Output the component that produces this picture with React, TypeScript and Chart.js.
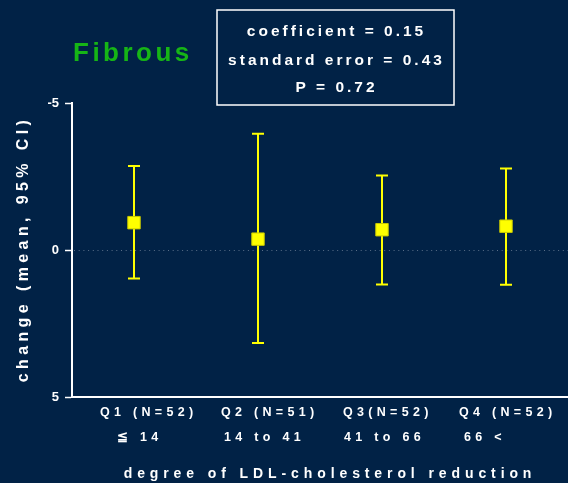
import React, { useEffect, useRef } from "react";
import { Chart, registerables } from "chart.js";

Chart.register(...registerables);

const categories = ["Q1", "Q2", "Q3", "Q4"];
const quartileLabels = ["Q1 (N=52)", "Q2 (N=51)", "Q3(N=52)", "Q4 (N=52)"];
const rangeLabels = ["≦ 14", "14 to 41", "41 to 66", "66 <"];
const means = [-0.93, -0.37, -0.69, -0.81];
const ciLow = [-2.86, -3.95, -2.53, -2.77];
const ciHigh = [0.97, 3.16, 1.17, 1.18];
const yTicks = [-5, 0, 5];
const statLines = ["coefficient = 0.15", "standard error = 0.43", "P = 0.72"];

const BG = "#012246";
const FONT = "'Liberation Sans', Arial, sans-serif";

const bgPlugin = {
  id: "bg",
  beforeDraw(chart: any) {
    const ctx = chart.ctx;
    ctx.save();
    ctx.fillStyle = BG;
    ctx.fillRect(0, 0, chart.width, chart.height);
    ctx.restore();
  },
};

const errorBarPlugin = {
  id: "errorBars",
  beforeDatasetsDraw(chart: any) {
    const ctx = chart.ctx;
    const xs = chart.scales.x;
    const ys = chart.scales.y;
    const area = chart.chartArea;
    ctx.save();
    // dotted zero line
    const y0 = Math.round(ys.getPixelForValue(0)) + 0.5;
    ctx.strokeStyle = "#5a6f88";
    ctx.lineWidth = 1;
    ctx.setLineDash([1, 3.7]);
    ctx.beginPath();
    ctx.moveTo(area.left + 2, y0);
    ctx.lineTo(area.right, y0);
    ctx.stroke();
    ctx.setLineDash([]);

    ctx.strokeStyle = "#ffff00";
    ctx.lineWidth = 2;
    categories.forEach((_, i) => {
      const x = xs.getPixelForValue(i);
      const y1 = ys.getPixelForValue(ciLow[i]);
      const y2 = ys.getPixelForValue(ciHigh[i]);
      ctx.beginPath();
      ctx.moveTo(x, y1);
      ctx.lineTo(x, y2);
      ctx.moveTo(x - 6, y1);
      ctx.lineTo(x + 6, y1);
      ctx.moveTo(x - 6, y2);
      ctx.lineTo(x + 6, y2);
      ctx.stroke();
    });
    ctx.restore();
  },
};

const textPlugin = {
  id: "texts",
  afterDraw(chart: any) {
    const ctx = chart.ctx;
    const xs = chart.scales.x;
    ctx.save();
    // Title
    ctx.fillStyle = "#16b516";
    ctx.font = `bold 26px ${FONT}`;
    (ctx as any).letterSpacing = "3.5px";
    ctx.textAlign = "left";
    ctx.textBaseline = "middle";
    ctx.fillText("Fibrous", 73, 54);

    // Stats box
    ctx.strokeStyle = "#ffffff";
    ctx.lineWidth = 1.5;
    ctx.strokeRect(217, 10, 237, 95);
    ctx.fillStyle = "#ffffff";
    ctx.font = `bold 15.5px ${FONT}`;
    (ctx as any).letterSpacing = "3px";
    ctx.textAlign = "center";
    const ys = [32, 61, 88];
    statLines.forEach((t, i) => ctx.fillText(t, 335 + 1.5, ys[i]));

    // Category labels
    ctx.font = `bold 12.5px ${FONT}`;
    (ctx as any).letterSpacing = "4.3px";
    ctx.textAlign = "left";
    const off1 = [-34, -37, -39, -47];
    const off2 = [-17, -34, -38, -42];
    categories.forEach((_, i) => {
      const x = xs.getPixelForValue(i);
      ctx.fillText(quartileLabels[i], x + off1[i], 413);
      ctx.fillText(rangeLabels[i], x + off2[i], 438);
    });

    // X title
    ctx.font = `bold 14px ${FONT}`;
    (ctx as any).letterSpacing = "4.9px";
    ctx.textAlign = "center";
    ctx.fillText("degree of LDL-cholesterol reduction", 330, 474);

    // Y title
    ctx.translate(24, 251);
    ctx.rotate(-Math.PI / 2);
    ctx.font = `bold 16px ${FONT}`;
    (ctx as any).letterSpacing = "4.4px";
    ctx.textAlign = "center";
    ctx.fillText("change (mean, 95% CI)", 2, 0);
    ctx.restore();
  },
};

export default function App() {
  const ref = useRef<HTMLCanvasElement | null>(null);
  useEffect(() => {
    document.body.style.margin = "0";
    document.body.style.background = BG;
    const canvas = ref.current!;
    const chart = new Chart(canvas, {
      type: "line",
      data: {
        labels: categories,
        datasets: [
          {
            data: means,
            showLine: false,
            pointStyle: "rect",
            pointRadius: 8.8,
            pointHoverRadius: 8.8,
            backgroundColor: "#ffff00",
            borderColor: "#c8c800",
            pointBorderWidth: 1,
          },
        ],
      },
      options: {
        animation: false,
        responsive: false,
        maintainAspectRatio: false,
        events: [],
        layout: { autoPadding: false, padding: { top: 103, left: 0, right: 0, bottom: 0 } },
        plugins: {
          legend: { display: false },
          tooltip: { enabled: false },
          title: { display: false },
        },
        scales: {
          x: {
            type: "category",
            offset: true,
            grid: { display: false, drawTicks: false },
            border: { display: true, color: "#ffffff", width: 2 },
            ticks: { display: false },
            afterFit(scale: any) {
              scale.height = 86;
            },
          },
          y: {
            min: -5,
            max: 5,
            reverse: true,
            afterBuildTicks(scale: any) {
              scale.ticks = yTicks.map((v) => ({ value: v }));
            },
            ticks: {
              color: "#ffffff",
              font: { family: FONT, size: 13, weight: "bold" },
              padding: 6,
              callback: (v: any) => String(v),
            },
            grid: {
              drawOnChartArea: false,
              drawTicks: true,
              tickLength: 7,
              tickColor: "#ffffff",
              tickWidth: 1.5,
            } as any,
            border: { display: true, color: "#ffffff", width: 2 },
            afterFit(scale: any) {
              scale.width = 72;
            },
          },
        },
      } as any,
      plugins: [bgPlugin, errorBarPlugin, textPlugin],
    });
    return () => chart.destroy();
  }, []);
  return (
    <div style={{ width: 568, height: 483, background: BG }}>
      <canvas ref={ref} width={568} height={483} style={{ display: "block" }} />
    </div>
  );
}
